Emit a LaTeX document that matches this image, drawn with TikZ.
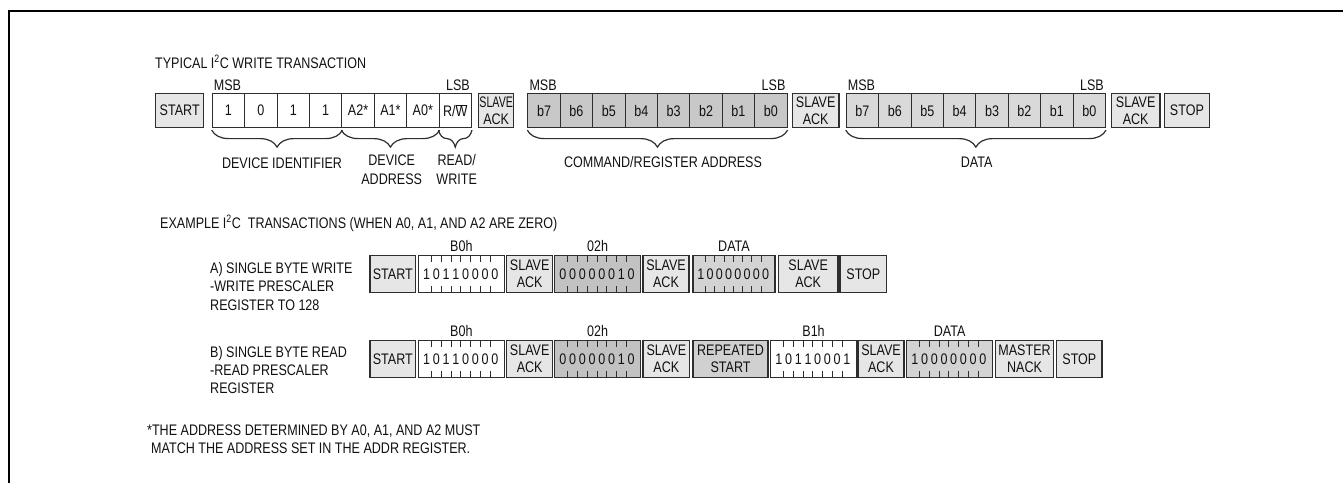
\documentclass[tikz,border=0pt]{standalone}
\usepackage{fontspec}
\usepackage{graphicx}
\setmainfont[FakeStretch=0.82]{Liberation Sans}
\usetikzlibrary{decorations.pathreplacing,calc}
\definecolor{bdr}{HTML}{2E2E2E}
\definecolor{txt}{HTML}{111111}
\definecolor{lg}{HTML}{E6E6E6}
\definecolor{cmdg}{HTML}{C8C8C8}
\definecolor{datg}{HTML}{D9D9D9}
\definecolor{rzg}{HTML}{C2C2C2}
\definecolor{rdg}{HTML}{D3D3D3}
\definecolor{repg}{HTML}{D0D0D0}
\tikzset{
 fld/.style={draw=bdr, line width=1.4pt, inner sep=0pt, anchor=north west, align=center, text=txt, font=\fontsize{15.3}{17}\selectfont},
 cell/.style={draw=bdr, line width=1.1pt, inner sep=0pt, anchor=north west, text=txt, font=\fontsize{15.3}{17}\selectfont},
 lbl/.style={inner sep=0pt, text=txt, font=\fontsize{15.3}{18}\selectfont},
 dig/.style={inner sep=0pt, text=txt, font=\fontsize{15.3}{18}\selectfont},
 brc/.style={decorate, decoration={brace, mirror, amplitude=17pt}, line width=1.2pt, draw=bdr},
 tickm/.style={line width=0.9pt, draw=bdr},
 frame/.style={line width=2pt, draw=black},
}
\newcommand\bitfield[6]{%
 \node[fld, fill=#5, minimum width=#4pt, minimum height=37pt] (#1) at (#2,#3) {};
 \foreach \d [count=\k] in {#6} {
   \node[dig] (#1d\k) at ($(#1.west)+({4+(\k-0.5)*(#4-8)/8},0)$) {\d};
 }
 \foreach \k in {1,...,7} {
   \draw[tickm] ($(#1.north west)+({4+\k*(#4-8)/8},0)$) -- ++(0,7);
   \draw[tickm] ($(#1.south west)+({4+\k*(#4-8)/8},0)$) -- ++(0,-7);
 }
}
\begin{document}
\begin{tikzpicture}[x=1pt,y=-1pt]
\useasboundingbox (0,0) rectangle (1343,483);
\draw[frame] (8.5,483) |- (1343,11);

% ---------- typical write transaction ----------
\node[lbl,anchor=base west] (title1) at (155,68) {TYPICAL I\textsuperscript{2}C WRITE TRANSACTION};

\node[fld,fill=lg,minimum width=48pt,minimum height=34pt] (start1) at (155,93) {START};
\foreach \t [count=\i] in {1,0,1,1,A2*,A1*,A0*,{R/$\overline{\mbox{W}}$}}
  \node[cell,fill=white,minimum width=32.4pt,minimum height=34pt] (a\i) at ({211.7+(\i-1)*32.4},93) {\t};
\node[fld,fill=lg,minimum width=35pt,minimum height=34pt] (ack1) at (478,93) {\scalebox{0.85}[1]{SLAVE}\\ACK};
\foreach \t [count=\i] in {b7,b6,b5,b4,b3,b2,b1,b0}
  \node[cell,fill=cmdg,minimum width=32.4pt,minimum height=34pt] (c\i) at ({527.3+(\i-1)*32.4},93) {\t};
\node[fld,fill=lg,minimum width=46.6pt,minimum height=34pt] (ack2) at (791.7,93) {SLAVE\\ACK};
\foreach \t [count=\i] in {b7,b6,b5,b4,b3,b2,b1,b0}
  \node[cell,fill=datg,minimum width=32.4pt,minimum height=34pt] (d\i) at ({845.7+(\i-1)*32.4},93) {\t};
\node[fld,fill=lg,minimum width=48.6pt,minimum height=34pt] (ack3) at (1110.7,93) {SLAVE\\ACK};
\node[fld,fill=lg,minimum width=45pt,minimum height=34pt] (stop1) at (1163.7,93) {STOP};

\node[lbl,anchor=base west] (msb1) at ($(a1.north west)+(2,-3)$) {MSB};
\node[lbl,anchor=base east] (lsb1) at ($(a8.north east)+(-2,-3)$) {LSB};
\node[lbl,anchor=base west] (msb2) at ($(c1.north west)+(2,-3)$) {MSB};
\node[lbl,anchor=base east] (lsb2) at ($(c8.north east)+(-2,-3)$) {LSB};
\node[lbl,anchor=base west] (msb3) at ($(d1.north west)+(2,-3)$) {MSB};
\node[lbl,anchor=base east] (lsb3) at ($(d8.north east)+(-2,-3)$) {LSB};

\draw[brc] ($(a1.south west)+(0,2)$) -- ($(a4.south east)+(0,2)$);
\draw[brc] ($(a5.south west)+(0,2)$) -- ($(a7.south east)+(0,2)$);
\draw[brc] ($(a8.south west)+(0,2)$) -- ($(a8.south east)+(0,2)$);
\draw[brc] ($(c1.south west)+(0,2)$) -- ($(c8.south east)+(0,2)$);
\draw[brc] ($(d1.south west)+(0,2)$) -- ($(d8.south east)+(0,2)$);

\node[lbl,anchor=base] (devid) at (282,168) {DEVICE IDENTIFIER};
\node[lbl,anchor=base] (devad1) at (391.7,165) {DEVICE};
\node[lbl,anchor=base] (devad2) at (391.7,184) {ADDRESS};
\node[lbl,anchor=base] (rw1) at (456.7,165) {READ/};
\node[lbl,anchor=base] (rw2) at (456.7,184) {WRITE};
\node[lbl,anchor=base] (cmdlbl) at (663,167) {COMMAND/REGISTER ADDRESS};
\node[lbl,anchor=base] (datlbl) at (976.7,167) {DATA};

% ---------- examples ----------
\node[lbl,anchor=base west] (title2) at (160,228) {EXAMPLE I\textsuperscript{2}C\ \ TRANSACTIONS (WHEN A0, A1, AND A2 ARE ZERO)};

\node[lbl,anchor=base west] (wa1) at (210,273) {A) SINGLE BYTE WRITE};
\node[lbl,anchor=base west] (wa2) at (210,291.5) {-WRITE PRESCALER};
\node[lbl,anchor=base west] (wa3) at (210,310) {REGISTER TO 128};

\node[fld,fill=lg,minimum width=45.7pt,minimum height=37pt] (wstart) at (369.3,255) {START};
\bitfield{wb0}{417.7}{255}{86}{white}{1,0,1,1,0,0,0,0}
\node[fld,fill=lg,minimum width=46pt,minimum height=37pt] (wack1) at (506,255) {SLAVE\\ACK};
\bitfield{wr}{554}{255}{86}{rzg}{0,0,0,0,0,0,1,0}
\node[fld,fill=lg,minimum width=46pt,minimum height=37pt] (wack2) at (642.3,255) {SLAVE\\ACK};
\bitfield{wd}{692.3}{255}{82}{rdg}{1,0,0,0,0,0,0,0}
\node[fld,fill=lg,minimum width=59.6pt,minimum height=37pt] (wack3) at (777.7,255) {SLAVE\\ACK};
\node[fld,fill=lg,minimum width=46.7pt,minimum height=37pt] (wstop) at (839.3,255) {STOP};

\node[lbl,anchor=base] (wl1) at ($(wb0.north)+(0,-4)$) {B0h};
\node[lbl,anchor=base] (wl2) at ($(wr.north)+(0,-4)$) {02h};
\node[lbl,anchor=base] (wl3) at ($(wd.north)+(0,-4)$) {DATA};

\node[lbl,anchor=base west] (ra1) at (210,357) {B) SINGLE BYTE READ};
\node[lbl,anchor=base west] (ra2) at (210,375) {-READ PRESCALER};
\node[lbl,anchor=base west] (ra3) at (210,393) {REGISTER};

\node[fld,fill=lg,minimum width=45.7pt,minimum height=37pt] (rstart) at (369.3,340) {START};
\bitfield{rb0}{417.7}{340}{86}{white}{1,0,1,1,0,0,0,0}
\node[fld,fill=lg,minimum width=46pt,minimum height=37pt] (rack1) at (506,340) {SLAVE\\ACK};
\bitfield{rr}{554}{340}{86}{rzg}{0,0,0,0,0,0,1,0}
\node[fld,fill=lg,minimum width=46.7pt,minimum height=37pt] (rack2) at (642.3,340) {SLAVE\\ACK};
\node[fld,fill=repg,minimum width=75pt,minimum height=37pt] (rrep) at (692.3,340) {REPEATED\\START};
\bitfield{rb1}{770}{340}{85.7}{white}{1,0,1,1,0,0,0,1}
\node[fld,fill=lg,minimum width=46pt,minimum height=37pt] (rack3) at (857.3,340) {SLAVE\\ACK};
\bitfield{rd}{906}{340}{85.7}{rdg}{1,0,0,0,0,0,0,0}
\node[fld,fill=lg,minimum width=57.7pt,minimum height=37pt] (rnack) at (995,340) {MASTER\\NACK};
\node[fld,fill=lg,minimum width=45.3pt,minimum height=37pt] (rstop) at (1056,340) {STOP};

\node[lbl,anchor=base] (rl1) at ($(rb0.north)+(0,-4)$) {B0h};
\node[lbl,anchor=base] (rl2) at ($(rr.north)+(0,-4)$) {02h};
\node[lbl,anchor=base] (rl3) at ($(rb1.north)+(0,-4)$) {B1h};
\node[lbl,anchor=base] (rl4) at ($(rd.north)+(0,-4)$) {DATA};

% ---------- footnote ----------
\node[lbl,anchor=base west] (fn1) at (147,435) {*THE ADDRESS DETERMINED BY A0, A1, AND A2 MUST};
\node[lbl,anchor=base west] (fn2) at (151,453) {MATCH THE ADDRESS SET IN THE ADDR REGISTER.};
\end{tikzpicture}
\end{document}
